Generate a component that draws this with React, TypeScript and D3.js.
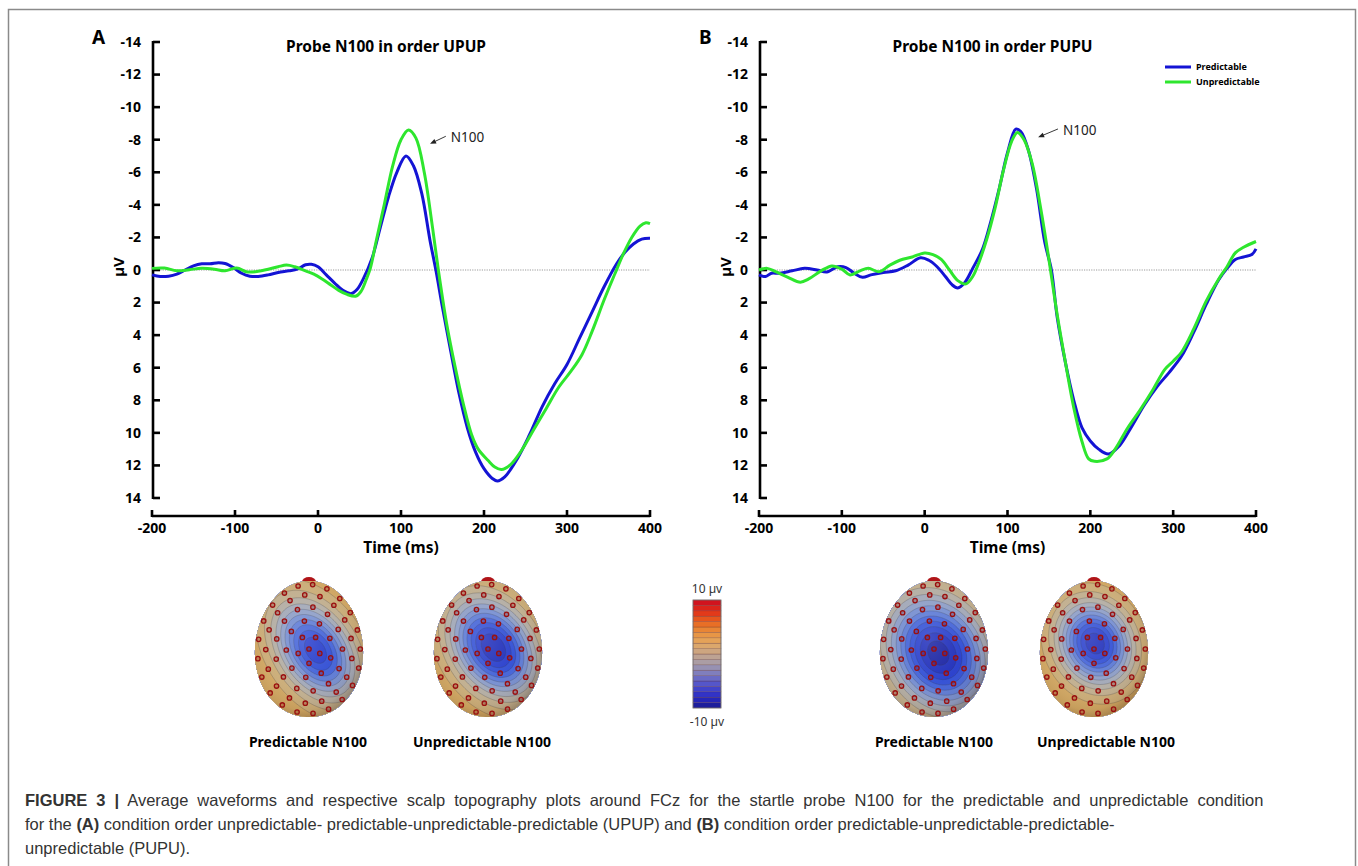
import React from 'react';
import * as d3 from 'd3';

const W = 1358;
const H = 866;

// axis ticks
const timeTicks = [-200, -100, 0, 100, 200, 300, 400];
const uvTicks = [-14, -12, -10, -8, -6, -4, -2, 0, 2, 4, 6, 8, 10, 12, 14];

// waveforms: [time ms, amplitude µV]
const predA: [number, number][] = [
  [-200, 0.3], [-190, 0.4], [-180, 0.38], [-170, 0.25], [-160, 0.0], [-150, -0.25], [-140, -0.38],
  [-130, -0.38], [-120, -0.45], [-112, -0.4], [-102, -0.15], [-92, 0.2], [-82, 0.38], [-72, 0.4],
  [-60, 0.3], [-48, 0.15], [-35, 0.05], [-25, -0.05], [-15, -0.32], [-8, -0.35], [0, -0.2], [10, 0.3],
  [20, 0.8], [30, 1.25], [40, 1.45], [47, 1.2], [55, 0.5], [65, -0.7], [75, -2.6], [85, -4.5], [95, -6.0],
  [106, -7.0], [115, -6.4], [125, -4.7], [135, -1.8], [142, 0], [150, 2.3], [160, 5.0], [170, 7.6],
  [180, 9.7], [190, 11.2], [200, 12.2], [210, 12.8], [216, 12.95], [225, 12.7], [240, 11.6], [255, 10.1],
  [270, 8.4], [285, 7.0], [300, 5.8], [315, 4.2], [330, 2.6], [345, 1.0], [360, -0.4], [370, -1.1],
  [380, -1.6], [390, -1.9], [400, -1.95],
];
const unpredA: [number, number][] = [
  [-200, -0.1], [-185, -0.12], [-170, 0.05], [-155, -0.02], [-140, -0.1], [-125, -0.05], [-112, 0.05],
  [-98, -0.12], [-85, 0.12], [-72, 0.08], [-60, -0.05], [-48, -0.2], [-38, -0.3], [-28, -0.2], [-15, 0.05],
  [-5, 0.25], [5, 0.55], [15, 0.9], [25, 1.25], [35, 1.5], [46, 1.6], [52, 1.3], [58, 0.6], [63, -0.1],
  [70, -1.75], [80, -4.05], [90, -6.4], [100, -8.0], [109, -8.6], [118, -8.1], [128, -6.0], [138, -2.6],
  [145, 0], [155, 3.3], [165, 5.9], [175, 8.2], [185, 10.1], [193, 11.0], [205, 11.7], [213, 12.1],
  [221, 12.25], [232, 11.95], [245, 11.1], [260, 9.8], [275, 8.5], [290, 7.2], [305, 6.2], [318, 5.2],
  [330, 3.8], [345, 1.8], [358, 0.2], [368, -1.0], [378, -2.0], [388, -2.7], [395, -2.9], [400, -2.85],
];
const predB: [number, number][] = [
  [-200, 0.3], [-192, 0.4], [-185, 0.2], [-175, 0.2], [-160, 0.05], [-145, -0.1], [-130, 0.0], [-118, 0.12],
  [-105, -0.2], [-95, -0.15], [-85, 0.2], [-75, 0.45], [-65, 0.3], [-50, 0.15], [-35, 0.05], [-20, -0.3],
  [-5, -0.75], [5, -0.6], [15, -0.2], [25, 0.4], [33, 0.9], [40, 1.1], [48, 0.8], [58, -0.1], [70, -1.3],
  [80, -3.0], [90, -5.0], [100, -7.2], [110, -8.65], [116, -8.5], [125, -7.4], [135, -5.0], [145, -1.7],
  [153, 0], [160, 2.9], [170, 5.7], [180, 8.0], [190, 9.7], [200, 10.5], [210, 11.0], [222, 11.3],
  [235, 10.8], [250, 9.6], [265, 8.3], [280, 7.2], [295, 6.3], [310, 5.3], [325, 3.8], [340, 2.1],
  [355, 0.6], [365, -0.1], [375, -0.65], [385, -0.8], [395, -0.95], [400, -1.3],
];
const unpredB: [number, number][] = [
  [-200, 0], [-190, -0.1], [-180, 0.1], [-165, 0.45], [-150, 0.75], [-140, 0.55], [-125, 0.05], [-112, -0.25],
  [-100, -0.05], [-90, 0.3], [-78, 0.05], [-68, -0.1], [-55, 0.1], [-42, -0.3], [-30, -0.6], [-15, -0.8],
  [0, -1.05], [10, -0.95], [20, -0.65], [30, 0], [40, 0.65], [50, 0.85], [58, 0.4], [65, -0.4], [75, -1.9],
  [85, -3.8], [95, -6.1], [105, -7.9], [112, -8.45], [120, -8.0], [130, -6.5], [140, -3.8], [150, -0.65],
  [160, 2.75], [170, 5.7], [180, 8.45], [190, 10.55], [198, 11.6], [205, 11.75], [220, 11.6], [230, 11.0],
  [245, 9.7], [260, 8.6], [275, 7.4], [290, 6.1], [300, 5.6], [310, 5.05], [325, 3.6], [340, 1.9],
  [355, 0.55], [365, -0.2], [375, -1.05], [385, -1.4], [400, -1.75],
];

const panelLetters = ['A', 'B'];
const panelTitles = ['Probe N100 in order UPUP', 'Probe N100 in order PUPU'];
const seriesNames = ['Predictable', 'Unpredictable'];
const seriesColors = ['#1414d4', '#2ee62e'];
// N100 annotation: text anchor and arrow tip in data units
const n100Text: [number, number][] = [[160, -8.15], [167, -8.6]];
const n100Tip: [number, number][] = [[135, -7.75], [137, -8.15]];

// topographies
const topoLabels = ['Predictable N100', 'Unpredictable N100', 'Predictable N100', 'Unpredictable N100'];
const topoPeak = [-7.8, -9.0, -9.6, -8.8];
const topoFocusU = [0.12, 0.1, 0.08, 0.02];
const topoFocusV = [0.02, -0.02, 0.06, -0.08];
const topoSpreadMajor = [0.6, 0.6, 0.68, 0.48];
const topoSpreadMinor = [0.4, 0.43, 0.54, 0.4];
const topoTilt = [40, 35, 30, 25];
const topoEdge = 3.2;

// colour map (µV)
const cmapValues = [-10, -8, -6, -4, -2, 0, 2, 4, 6, 8, 10];
const cmapColors = ['#1a1a8e', '#2a2ac4', '#4a4ccc', '#7474c2', '#a29aac', '#c6a48a', '#e2a862',
  '#e8903c', '#e8641e', '#e02c18', '#cc0a20'];
const topoColors = ['#161c96', '#2234c6', '#3656d8', '#6a86d4', '#9aa6c2', '#bcb09a', '#d0ac6c',
  '#d89a48', '#e0702a', '#d8381c', '#c81020'];
const colorbarLabels = ['10 µv', '-10 µv'];

const captionLines = [
  ['FIGURE 3 |', ' Average waveforms and respective scalp topography plots around FCz for the startle probe N100 for the predictable and unpredictable condition'],
  ['', 'for the ', '(A)', ' condition order unpredictable- predictable-unpredictable-predictable (UPUP) and ', '(B)', ' condition order predictable-unpredictable-predictable-'],
  ['', 'unpredictable (PUPU).'],
];

// layout
const panelLayout = [{ x0: 152, x1: 650 }, { x0: 759, x1: 1256 }];
const plotTop = 42;
const plotBottom = 498;
const xAxisY = 516;
const topoCx = [309, 488, 934, 1094];
const topoLabelCx = [308, 482, 934, 1106];
const topoCy = 649;
const headRx = 54;
const headRy = 68;
const captionWordSpacing = [4.4, 0, 0];

const FONT = "'Noto Sans', 'Open Sans', sans-serif";
const CAP_FONT = "'Liberation Sans', Arial, sans-serif";

const color = d3.scaleLinear<string>().domain(cmapValues).range(cmapColors).clamp(true);
const topoColor = d3.scaleLinear<string>().domain(cmapValues).range(topoColors).clamp(true);

function Panel({ idx }: { idx: number }) {
  const { x0, x1 } = panelLayout[idx];
  const x = d3.scaleLinear().domain([-200, 400]).range([x0, x1]);
  const y = d3.scaleLinear().domain([-14, 14]).range([plotTop, plotBottom]);
  const line = d3.line<[number, number]>()
    .x(d => x(d[0]))
    .y(d => y(d[1]))
    .curve(d3.curveCatmullRom.alpha(0.5));
  const series = idx === 0 ? [predA, unpredA] : [predB, unpredB];
  const ax = x0 + 1;
  const [tt, tv] = n100Text[idx];
  const [pt, pv] = n100Tip[idx];
  const tipX = x(pt), tipY = y(pv);
  const tailX = x(tt) - 5, tailY = y(tv) - 1;
  const ang = Math.atan2(tailY - tipY, tailX - tipX);
  const ah = 6, aw = 2.5;
  const head = [
    [tipX, tipY],
    [tipX + ah * Math.cos(ang) - aw * Math.sin(ang), tipY + ah * Math.sin(ang) + aw * Math.cos(ang)],
    [tipX + ah * Math.cos(ang) + aw * Math.sin(ang), tipY + ah * Math.sin(ang) - aw * Math.cos(ang)],
  ];
  const cx = (x0 + x1) / 2;
  return (
    <g>
      <text x={x0 - 60} y={44} fontFamily={FONT} fontWeight="bold" fontSize={19}>{panelLetters[idx]}</text>
      <text x={cx - 15} y={52} textAnchor="middle" fontFamily={FONT} fontWeight="bold" fontSize={15.5}>{panelTitles[idx]}</text>
      {/* zero line */}
      <line x1={ax} x2={x1} y1={y(0)} y2={y(0)} stroke="#9a9a9a" strokeWidth={1} strokeDasharray="1.2 1.2" />
      {/* y axis */}
      <line x1={ax} x2={ax} y1={y(-14) - 1} y2={y(14) + 1} stroke="#000" strokeWidth={2.6} />
      {uvTicks.map(t => (
        <g key={t}>
          <line x1={ax} x2={ax + 7} y1={y(t)} y2={y(t)} stroke="#000" strokeWidth={2.6} />
          <text x={x0 - 11} y={y(t)} dy="0.35em" textAnchor="end" fontFamily={FONT} fontWeight="bold" fontSize={14}>{t}</text>
        </g>
      ))}
      <text transform={`translate(${x0 - 33},${y(0) - 3}) rotate(-90)`} textAnchor="middle" dy="0.35em"
        fontFamily={FONT} fontWeight="bold" fontSize={15}>µV</text>
      {/* x axis */}
      <line x1={x0} x2={x1} y1={xAxisY} y2={xAxisY} stroke="#000" strokeWidth={2.6} />
      {timeTicks.map(t => (
        <g key={t}>
          <line x1={x(t)} x2={x(t)} y1={xAxisY + 1} y2={xAxisY - 6} stroke="#000" strokeWidth={2.6} />
          <text x={x(t)} y={xAxisY + 17} textAnchor="middle" fontFamily={FONT} fontWeight="bold" fontSize={14}>{t}</text>
        </g>
      ))}
      <text x={cx} y={xAxisY + 37} textAnchor="middle" fontFamily={FONT} fontWeight="bold" fontSize={15.5}>Time (ms)</text>
      {/* curves */}
      {series.map((s, i) => (
        <path key={i} d={line(s) || ''} fill="none" stroke={seriesColors[i]} strokeWidth={3} strokeLinejoin="round" />
      ))}
      {/* annotation */}
      <line x1={tailX} y1={tailY} x2={tipX + 3 * Math.cos(ang)} y2={tipY + 3 * Math.sin(ang)} stroke="#222" strokeWidth={0.9} />
      <polygon points={head.map(p => p.join(',')).join(' ')} fill="#222" />
      <text x={x(tt)} y={y(tv)} dy="0.35em" fontFamily={FONT} fontSize={13.5} fill="#222">N100</text>
      {idx === 1 && (
        <g>
          {seriesNames.map((n, i) => (
            <g key={n}>
              <line x1={1165} x2={1191} y1={67 + i * 15} y2={67 + i * 15} stroke={seriesColors[i]} strokeWidth={3} />
              <text x={1196} y={67 + i * 15} dy="0.35em" fontFamily={FONT} fontWeight="bold" fontSize={9}>{n}</text>
            </g>
          ))}
        </g>
      )}
    </g>
  );
}

// electrode montage: [radius fraction, count, angle offset deg]
const montageRings: [number, number, number][] = [
  [0, 1, 0], [0.21, 5, 90], [0.42, 9, 18], [0.62, 13, 0], [0.8, 17, 10], [0.95, 21, 0],
];

function headPath(cx: number, cy: number) {
  const pts: [number, number][] = d3.range(72).map(i => {
    const a = (i / 72) * 2 * Math.PI;
    const s = Math.sin(a);
    const k = 1 + 0.05 * s;
    return [cx + headRx * Math.cos(a) * k, cy + headRy * s];
  });
  return d3.line().curve(d3.curveCardinalClosed)(pts) || '';
}

function Topo({ idx }: { idx: number }) {
  const cx = topoCx[idx];
  const cy = topoCy;
  const step = 1.5;
  const gx0 = cx - 62, gy0 = cy - 76;
  const nx = Math.round(124 / step) + 1;
  const ny = Math.round(152 / step) + 1;
  const th = (topoTilt[idx] * Math.PI) / 180;
  const values = new Array(nx * ny);
  for (let j = 0; j < ny; j++) {
    for (let i = 0; i < nx; i++) {
      const u = (gx0 + i * step - cx) / headRx - topoFocusU[idx];
      const v = (gy0 + j * step - cy) / headRy - topoFocusV[idx];
      const a = u * Math.cos(th) + v * Math.sin(th);
      const b = -u * Math.sin(th) + v * Math.cos(th);
      const q = (a / topoSpreadMajor[idx]) ** 2 + (b / topoSpreadMinor[idx]) ** 2;
      values[j * nx + i] = topoEdge + (topoPeak[idx] - topoEdge) * Math.exp(-0.5 * q);
    }
  }
  const thresholds = d3.range(-11, 11, 1);
  const contours = d3.contours().size([nx, ny]).thresholds(thresholds)(values);
  const path = d3.geoPath(d3.geoIdentity().scale(step).translate([gx0 - step / 2, gy0 - step / 2]) as any);
  const hp = headPath(cx, cy);
  const electrodes: [number, number][] = [];
  montageRings.forEach(([r, n, off]) => {
    for (let k = 0; k < n; k++) {
      const a = ((off + (360 * k) / n) * Math.PI) / 180;
      const u = r * Math.cos(a);
      const v = r * Math.sin(a);
      electrodes.push([cx + u * headRx * (1 + 0.05 * v), cy + v * headRy]);
    }
  });
  return (
    <g>
      <clipPath id={`head${idx}`}><path d={hp} /></clipPath>
      <ellipse cx={cx} cy={cy - headRy + 1} rx={7} ry={5} fill="#b01418" />
      <g clipPath={`url(#head${idx})`}>
        {contours.map(c => (
          <path key={c.value} d={path(c as any) || ''} fill={topoColor(c.value + 0.5)}
            stroke="rgba(50,50,60,0.4)" strokeWidth={0.6} />
        ))}
        <path d={hp} fill="url(#shade)" />
      </g>
      {electrodes.map((p, k) => (
        <circle key={k} cx={p[0]} cy={p[1]} r={2.2} fill="rgba(150,20,20,0.25)" stroke="#9a1010" strokeWidth={1.3} />
      ))}
      <text x={topoLabelCx[idx]} y={747} textAnchor="middle" fontFamily={FONT} fontWeight="bold" fontSize={14}>
        {topoLabels[idx]}
      </text>
    </g>
  );
}

function Colorbar() {
  const x0 = 693, y0 = 600, w = 28, h = 108;
  const yb = d3.scaleLinear().domain([10, -10]).range([y0, y0 + h]);
  const bands = d3.range(-10, 10, 1);
  return (
    <g>
      {bands.map(b => (
        <rect key={b} x={x0} y={yb(b + 1)} width={w} height={yb(b) - yb(b + 1)} fill={color(b + 0.5)}
          stroke="rgba(90,40,40,0.5)" strokeWidth={0.5} />
      ))}
      <rect x={x0} y={y0} width={w} height={h} fill="none" stroke="#777" strokeWidth={0.8} />
      <text x={x0 + w / 2} y={y0 - 7} textAnchor="middle" fontFamily={FONT} fontSize={12} fill="#333">{colorbarLabels[0]}</text>
      <text x={x0 + w / 2} y={y0 + h + 18} textAnchor="middle" fontFamily={FONT} fontSize={12} fill="#333">{colorbarLabels[1]}</text>
    </g>
  );
}

export default function App() {
  return (
    <svg width={W} height={H} style={{ position: 'absolute', left: 0, top: 0, background: '#fff' }}>
      <defs>
        <radialGradient id="shade" cx="0.45" cy="0.42" r="0.62">
          <stop offset="0" stopColor="#fff" stopOpacity={0.16} />
          <stop offset="0.55" stopColor="#fff" stopOpacity={0.03} />
          <stop offset="0.85" stopColor="#5a3c1e" stopOpacity={0.1} />
          <stop offset="1" stopColor="#46301a" stopOpacity={0.4} />
        </radialGradient>
      </defs>
      <rect x={8.5} y={9.5} width={1347} height={880} fill="none" stroke="#8a8a8a" strokeWidth={1.5} />
      <Panel idx={0} />
      <Panel idx={1} />
      {[0, 1, 2, 3].map(i => <Topo key={i} idx={i} />)}
      <Colorbar />
      {captionLines.map((ln, i) => (
        <text key={i} x={25} y={806 + i * 24} fontFamily={CAP_FONT} fontSize={16.5} fill="#333"
          wordSpacing={captionWordSpacing[i]}>
          {ln.map((seg, k) => (
            <tspan key={k} fontWeight={(i === 0 && k === 0) || seg === '(A)' || seg === '(B)' ? 'bold' : 'normal'}>{seg}</tspan>
          ))}
        </text>
      ))}
    </svg>
  );
}
